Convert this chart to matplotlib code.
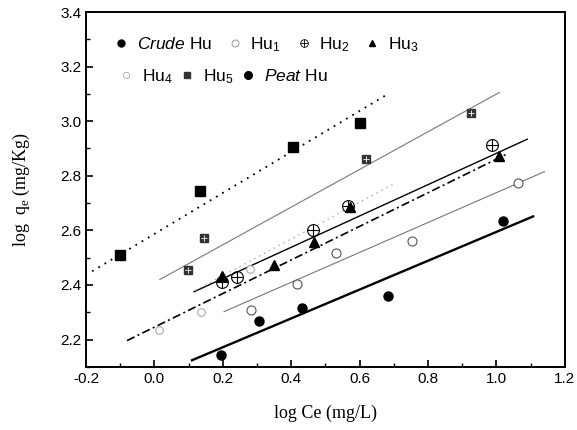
import numpy as np
import matplotlib
matplotlib.use('Agg')
import matplotlib.pyplot as plt
from matplotlib.lines import Line2D
from matplotlib.ticker import MultipleLocator

plt.rcParams['font.family'] = 'Liberation Sans'
plt.rcParams['mathtext.fontset'] = 'custom'
plt.rcParams['mathtext.rm'] = 'Liberation Sans'
plt.rcParams['mathtext.it'] = 'Liberation Sans:italic'
plt.rcParams['axes.unicode_minus'] = False

# measured points (log Ce, log qe)
crude_x = [0.195, 0.306, 0.432, 0.683, 1.02]
crude_y = [2.145, 2.269, 2.316, 2.36, 2.636]
hu1_x = [0.282, 0.417, 0.531, 0.753, 1.063]
hu1_y = [2.309, 2.404, 2.516, 2.56, 2.775]
hu2_x = [0.198, 0.241, 0.464, 0.566, 0.987]
hu2_y = [2.41, 2.429, 2.60, 2.69, 2.913]
hu3_x = [0.198, 0.35, 0.467, 0.572, 1.008]
hu3_y = [2.433, 2.473, 2.556, 2.684, 2.873]
hu4_x = [0.013, 0.136, 0.28]
hu4_y = [2.233, 2.302, 2.458]
hu5_x = [0.098, 0.145, 0.619, 0.926]
hu5_y = [2.455, 2.571, 2.862, 3.03]
peat_x = [-0.1, 0.133, 0.405, 0.601]
peat_y = [2.51, 2.745, 2.905, 2.993]

# fitted line end points
crude_fit = ([0.11, 1.107], [2.124, 2.651])
hu1_fit = ([0.2035, 1.14], [2.302, 2.815])
hu2_fit = ([0.116, 1.09], [2.375, 2.934])
hu3_fit = ([-0.08, 1.031], [2.196, 2.88])
hu4_fit = ([0.12, 0.70], [2.38, 2.77])
hu5_fit = ([0.016, 1.008], [2.42, 3.105])
peat_fit = ([-0.182, 0.683], [2.45, 3.10])

fig = plt.figure(figsize=(5.77, 4.30), dpi=100)
ax = fig.add_axes([0.149, 0.147, 0.830, 0.825])

# fit lines
ax.plot(*crude_fit, color='black', lw=1.7)
ax.plot(*hu1_fit, color='#777777', lw=0.8)
ax.plot(*hu2_fit, color='black', lw=1.0)
ax.plot(*hu3_fit, color='black', lw=1.2, dashes=(5, 2, 1.2, 2))
ax.plot(*hu4_fit, color='#aaaaaa', lw=1.0, dashes=(1, 3))
ax.plot(*hu5_fit, color='#777777', lw=0.8)
ax.plot(*peat_fit, color='black', lw=1.3, dashes=(1, 3))

# data points
ax.plot(crude_x, crude_y, 'o', color='black', ms=6.5, ls='none')
ax.plot(hu1_x, hu1_y, 'o', mfc='white', mec='#555555', mew=0.8, ms=6.5, ls='none')
ax.plot(hu2_x, hu2_y, 'o', mfc='none', mec='black', mew=0.8, ms=8.5, ls='none')
ax.plot(hu2_x, hu2_y, '+', color='black', mew=0.8, ms=8.5, ls='none')
ax.plot(hu3_x, hu3_y, '^', color='black', ms=7, ls='none')
ax.plot(hu4_x, hu4_y, 'o', mfc='white', mec='#aaaaaa', mew=0.8, ms=5.5, ls='none')
ax.plot(hu5_x, hu5_y, 's', color='#333333', ms=6, ls='none')
ax.plot(hu5_x, hu5_y, '+', color='white', mew=0.6, ms=4, ls='none')
ax.plot(peat_x, peat_y, 's', color='black', ms=6.5, ls='none')

ax.set_xlim(-0.2, 1.2)
ax.set_ylim(2.1, 3.4)
ax.xaxis.set_major_locator(MultipleLocator(0.2))
ax.xaxis.set_minor_locator(MultipleLocator(0.1))
ax.yaxis.set_major_locator(MultipleLocator(0.2))
ax.yaxis.set_minor_locator(MultipleLocator(0.1))
ax.tick_params(which='both', direction='in', labelsize=11)
ax.tick_params(which='major', length=5, width=1.2)
ax.tick_params(which='minor', length=3, width=1.0)
for s in ax.spines.values():
    s.set_linewidth(1.4)
ax.set_yticks(np.arange(2.2, 3.41, 0.2))
ax.set_yticklabels(['%.1f' % v for v in np.arange(2.2, 3.41, 0.2)])

ax.set_xlabel('log Ce (mg/L)', family='Liberation Serif', fontsize=13, labelpad=14)
ax.set_ylabel(r'log  q$_\mathregular{e}$ (mg/Kg)', family='Liberation Serif',
              fontsize=13, labelpad=20)

# legend, two rows
h1 = [Line2D([], [], marker='o', color='black', ls='none', ms=5),
      Line2D([], [], marker='o', mfc='white', mec='#888888', ls='none', ms=5, mew=0.6),
      (Line2D([], [], marker='o', mfc='none', mec='black', ls='none', ms=5.5, mew=0.6),
       Line2D([], [], marker='+', color='black', ls='none', ms=5.5, mew=0.6)),
      Line2D([], [], marker='^', color='black', ls='none', ms=5)]
l1 = [r'$\mathit{Crude}$ Hu', r'Hu$_1$', r'Hu$_2$', r'Hu$_3$']
h2 = [Line2D([], [], marker='o', mfc='white', mec='#aaaaaa', ls='none', ms=4.5, mew=0.6),
      Line2D([], [], marker='s', color='#333333', ls='none', ms=4.5),
      Line2D([], [], marker='o', color='black', ls='none', ms=5.5)]
l2 = [r'Hu$_4$', r'Hu$_5$', r'$\mathit{Peat}$ Hu']
leg1 = ax.legend(h1, l1, ncol=4, loc='upper left', bbox_to_anchor=(0.045, 0.955),
                 frameon=False, fontsize=12.5, handlelength=0.8, handletextpad=0.5,
                 columnspacing=0.9, borderaxespad=0)
ax.add_artist(leg1)
ax.legend(h2, l2, ncol=3, loc='upper left', bbox_to_anchor=(0.055, 0.865),
          frameon=False, fontsize=12.5, handlelength=0.8, handletextpad=0.5,
          columnspacing=0.45, borderaxespad=0)

fig.savefig('out.png', dpi=100)
